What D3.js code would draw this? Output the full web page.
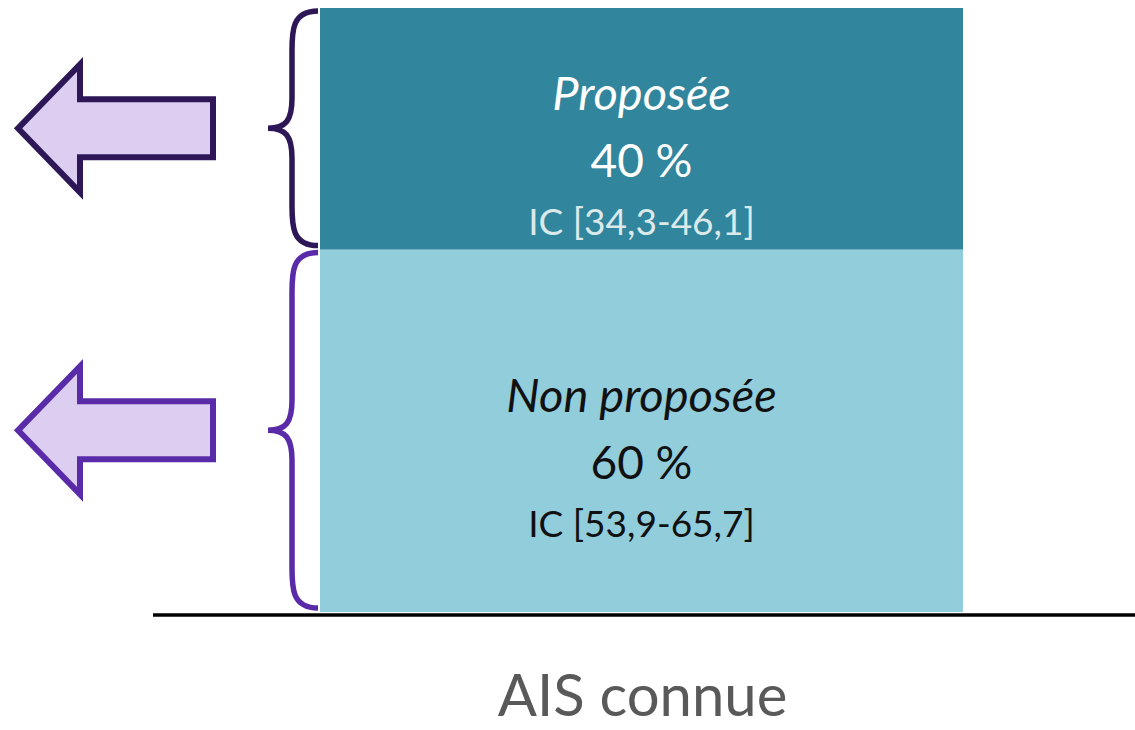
<!DOCTYPE html>
<html>
<head>
<meta charset="utf-8">
<script src="https://cdn.jsdelivr.net/npm/d3@7"></script>
<style>
  body { margin: 0; background: #fff; }
  svg { display: block; font-family: Lato, "Open Sans", sans-serif; }
</style>
</head>
<body>
<svg id="chart" width="1135" height="730"></svg>
<script>
// data
const categories = ["AIS connue"]
const segments = ["Non proposée", "Proposée"]
const values = [60, 40]
const intervals = ["IC [53,9-65,7]", "IC [34,3-46,1]"]

const fills = ["#92cddc", "#31859c"]
const textColors = ["#111", "#fff"]
const icColors = ["#111", "#dbe9eb"]
const braceColors = ["#5a2ba8", "#2d1756"]
const arrowFill = "#dccef0"

const svg = d3.select("#chart")

const x = d3.scaleBand()
    .domain(categories)
    .range([320, 963])
    .padding(0)

const y = d3.scaleLinear()
    .domain([0, 100])
    .range([612, 8])

// stacked segments, bottom to top
let acc = 0
const stackData = values.map((v, i) => {
    const d = {name: segments[i], value: v, ic: intervals[i], y0: acc, y1: acc + v, i: i}
    acc += v
    return d
})

const bars = svg.append("g").attr("class", "bars")
bars.selectAll("rect")
    .data(stackData)
    .join("rect")
    .attr("x", x(categories[0]))
    .attr("width", x.bandwidth())
    .attr("y", d => y(d.y1))
    .attr("height", d => y(d.y0) - y(d.y1))
    .attr("fill", d => fills[d.i])

// labels inside the segments
const cx = x(categories[0]) + x.bandwidth() / 2
const labels = svg.append("g").attr("class", "labels").attr("text-anchor", "middle")
stackData.forEach(d => {
    const mid = (y(d.y0) + y(d.y1)) / 2
    labels.append("text")
        .attr("x", cx).attr("y", mid - 19)
        .attr("font-size", 47)
        .attr("font-style", "italic")
        .attr("fill", textColors[d.i])
        .text(d.name)
    labels.append("text")
        .attr("x", cx).attr("y", mid + 48)
        .attr("font-size", 46)
        .attr("fill", textColors[d.i])
        .text(d.value + " %")
    labels.append("text")
        .attr("x", cx).attr("y", mid + 106)
        .attr("font-size", 37)
        .attr("fill", icColors[d.i])
        .text(d.ic)
})

// baseline
svg.append("line")
    .attr("x1", 153).attr("x2", 1135)
    .attr("y1", y(0) + 3).attr("y2", y(0) + 3)
    .attr("stroke", "#000")
    .attr("stroke-width", 3.5)

// category label
svg.append("text")
    .attr("x", cx + 1)
    .attr("y", 716)
    .attr("text-anchor", "middle")
    .attr("font-size", 58)
    .attr("fill", "#595959")
    .text(categories[0])

// braces
function bracePath(top, bottom) {
    const r = 318, m = 292, tip = 268
    const mid = (top + bottom) / 2
    return `M${r},${top}`
        + ` C${m},${top} ${m},${top + 20} ${m},${top + 40}`
        + ` L${m},${mid - 30}`
        + ` C${m},${mid - 8} ${m - 6},${mid} ${tip},${mid}`
        + ` C${m - 6},${mid} ${m},${mid + 8} ${m},${mid + 30}`
        + ` L${m},${bottom - 40}`
        + ` C${m},${bottom - 20} ${m},${bottom} ${r},${bottom}`
}

// block arrows pointing left
function arrowPath(mid) {
    const tipX = 18, headX = 80, endX = 213, headH = 64, shaftH = 29
    return `M${tipX},${mid} L${headX},${mid - headH} L${headX},${mid - shaftH}`
        + ` L${endX},${mid - shaftH} L${endX},${mid + shaftH} L${headX},${mid + shaftH}`
        + ` L${headX},${mid + headH} Z`
}

const marks = svg.append("g").attr("class", "marks")
stackData.forEach(d => {
    const top = y(d.y1) + 3
    const bottom = y(d.y0) - 4
    marks.append("path")
        .attr("d", bracePath(top, bottom))
        .attr("fill", "none")
        .attr("stroke", braceColors[d.i])
        .attr("stroke-width", 5.5)
    marks.append("path")
        .attr("d", arrowPath((top + bottom) / 2))
        .attr("fill", arrowFill)
        .attr("stroke", braceColors[d.i])
        .attr("stroke-width", 6)
})
</script>
</body>
</html>
